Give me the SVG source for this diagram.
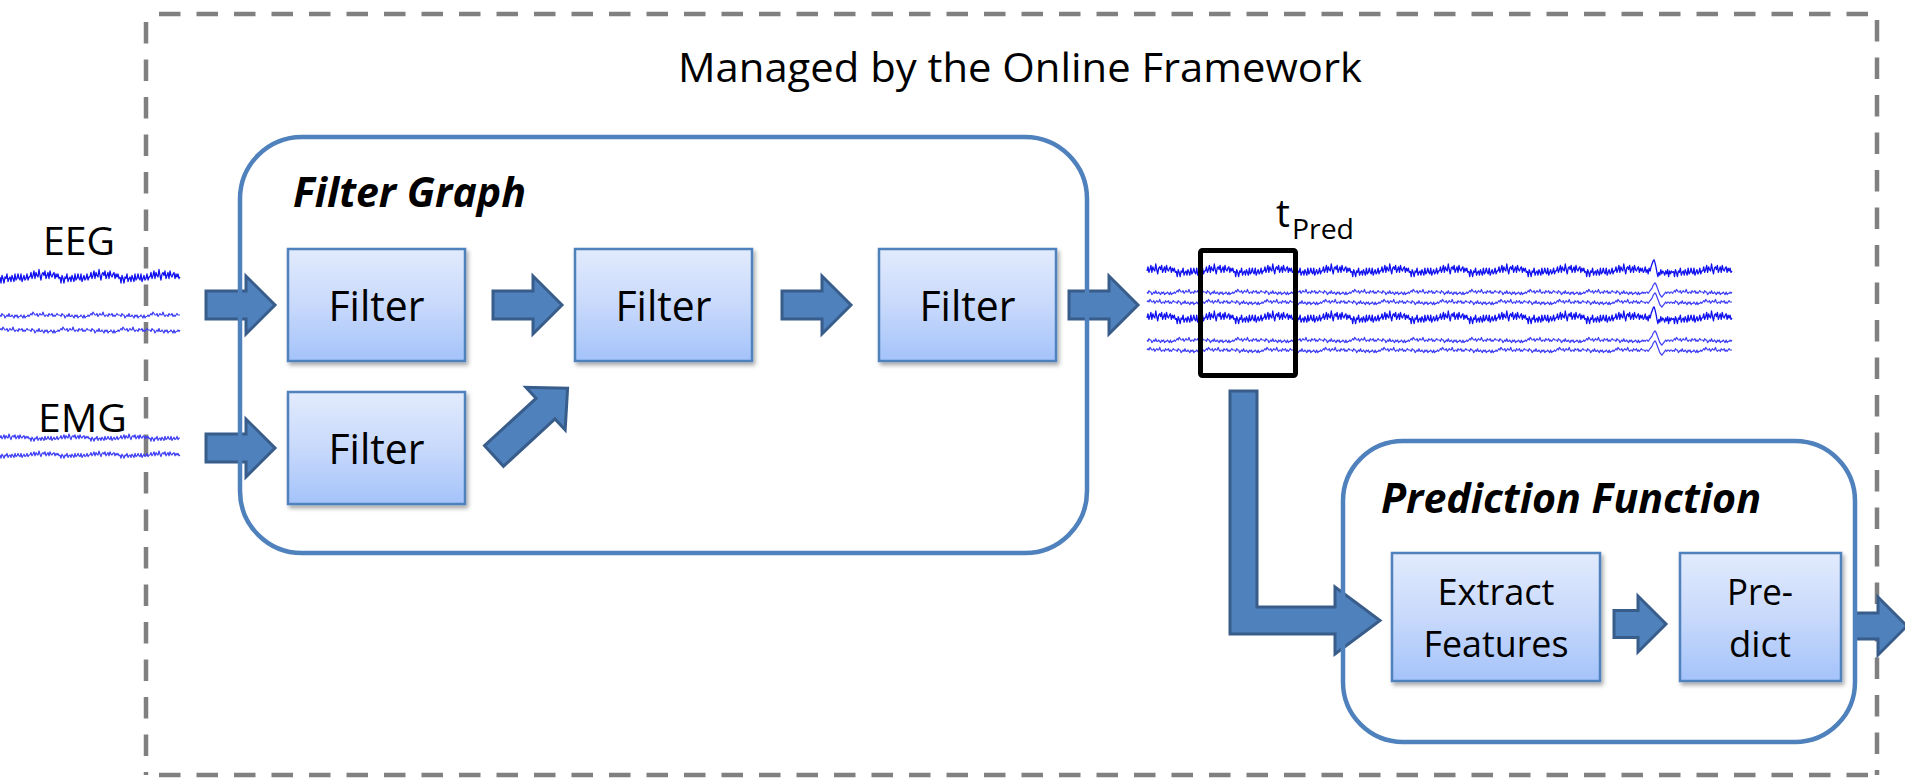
<svg xmlns="http://www.w3.org/2000/svg" xmlns:xlink="http://www.w3.org/1999/xlink" width="1905" height="778" viewBox="0 0 1905 778">
<defs>
<style>
text { font-family: "Open Sans", "Liberation Sans", sans-serif; fill: #000; }
.lbl { font-size: 42px; text-anchor: middle; }
.sm { font-size: 36px; text-anchor: middle; }
.hd { font-size: 41px; font-weight: bold; font-style: italic; }
.cont { fill: none; stroke: #4F81BD; stroke-width: 4.5; }
.box { fill: url(#gb); stroke: #4F81BD; stroke-width: 2.5; filter: url(#sh); }
.arr { fill: #4F81BD; stroke: #385D8A; stroke-width: 3; stroke-linejoin: miter; }
.dash { stroke: #808080; stroke-width: 4.5; stroke-dasharray: 21.5 16; fill: none; }
.sig { fill: none; stroke-linejoin: round; vector-effect: non-scaling-stroke; }
.n { stroke: #1010F0; stroke-width: 1.3; }
.s { stroke: #3C3CF5; stroke-width: 1.2; }
</style>
<linearGradient id="gb" x1="0" y1="0" x2="0" y2="1">
<stop offset="0" stop-color="#E2EBFD"/>
<stop offset="0.5" stop-color="#C8D9FB"/>
<stop offset="1" stop-color="#A4C3FA"/>
</linearGradient>
<filter id="sh" x="-10%" y="-10%" width="130%" height="130%">
<feDropShadow dx="2" dy="3" stdDeviation="2" flood-color="#000" flood-opacity="0.35"/>
</filter>
<path id="arrow" d="M0,-14 L40,-14 L40,-29 L69,0 L40,29 L40,14 L0,14 Z"/>
<path id="nA" class="sig" d="M0,0 l2,-3 2,4 2,-2 2,-3 2,5 2,-4 2,2 2,1 2,-5 2,4 2,3 2,-4 2,-1 2,2 2,-3 2,5 2,-2 2,-2 2,4 2,-5 2,3 2,1 2,-2 2,-1 2,4 2,-3 2,2 2,-2 2,3 2,-1"/>
<path id="nA2" class="sig" d="M0,0 l2,4 2,-5 2,2 2,3 2,-4 2,1 2,-3 2,5 2,-2 2,-1 2,3 2,-4 2,2 2,2 2,-5 2,4 2,-1 2,-3 2,3 2,1 2,-4 2,5 2,-2 2,-2 2,3 2,-1 2,-3 2,4 2,-2 2,0"/>
<path id="nEA" class="sig" d="M0,0 l2,-3 2,4 2,-2 2,3 2,-4 2,2 2,-3 2,-2 2,-2 2,-1 2,2 2,3 2,4 2,3 2,-3 2,2 2,-4 2,3 2,-2 2,1 2,2 2,-3 2,2 2,-3 2,5 2,-4 2,2 2,-2 2,1 2,0"/>
<path id="nB" class="sig" d="M0,0 l2,1 2,-2 2,1 2,0 2,2 2,-1 2,-1 2,1 2,-2 2,2 2,0 2,-1 2,1 2,1 2,-2 2,1 2,-1 2,2 2,-1 2,0 2,-1 2,1 2,1 2,-2 2,2 2,-1 2,0 2,-1 2,1 2,-1"/>
<path id="nB2" class="sig" d="M0,0 l2,-1 2,1 2,-2 2,1 2,1 2,0 2,-1 2,2 2,-1 2,-1 2,1 2,0 2,-2 2,2 2,1 2,-1 2,0 2,1 2,-2 2,1 2,0 2,-1 2,2 2,-1 2,1 2,-1 2,-1 2,1 2,0 2,0"/>
<path id="nE" class="sig" d="M0,0 l2,1 2,-1 2,0 2,1 2,-1 2,-1 2,-1 2,-1 2,-2 2,-1 2,-1 2,1 2,2 2,2 2,2 2,2 2,1 2,1 2,-1 2,-1 2,-1 2,-1 2,1 2,-1 2,0 2,1 2,-1 2,0 2,1 2,-1"/>
<g id="T1"><use href="#nA"/><use href="#nA2" x="60"/><use href="#nA" x="120"/><use href="#nA2" x="180"/><use href="#nA" x="240"/><use href="#nA2" x="300"/><use href="#nA" x="360"/><use href="#nA2" x="420"/><use href="#nA" x="480"/><use href="#nA2" x="540"/><use href="#nA" x="600"/><use href="#nA2" x="660"/><use href="#nA" x="720"/><use href="#nA2" x="780"/><use href="#nA" x="840"/><use href="#nA2" x="900"/><use href="#nA" x="960"/><use href="#nEA" x="1020"/><use href="#nA2" x="1080"/><use href="#nA" x="1140"/></g>
<g id="T2"><use href="#nB"/><use href="#nB2" x="60"/><use href="#nB" x="120"/><use href="#nB2" x="180"/><use href="#nB" x="240"/><use href="#nB2" x="300"/><use href="#nB" x="360"/><use href="#nB2" x="420"/><use href="#nB" x="480"/><use href="#nB2" x="540"/><use href="#nB" x="600"/><use href="#nB2" x="660"/><use href="#nB" x="720"/><use href="#nB2" x="780"/><use href="#nB" x="840"/><use href="#nB2" x="900"/><use href="#nB" x="960"/><use href="#nE" x="1020"/><use href="#nB2" x="1080"/><use href="#nB" x="1140"/></g>
<g id="T3"><use href="#nB2"/><use href="#nB" x="60"/><use href="#nB2" x="120"/><use href="#nB" x="180"/><use href="#nB2" x="240"/><use href="#nB" x="300"/><use href="#nB2" x="360"/><use href="#nB" x="420"/><use href="#nB2" x="480"/><use href="#nB" x="540"/><use href="#nB2" x="600"/><use href="#nB" x="660"/><use href="#nB2" x="720"/><use href="#nB" x="780"/><use href="#nB2" x="840"/><use href="#nB" x="900"/><use href="#nB2" x="960"/><use href="#nE" x="1020"/><use href="#nB" x="1080"/><use href="#nB2" x="1140"/></g>
<g id="I1"><use href="#nA2"/><use href="#nA" x="60"/><use href="#nA2" x="120"/><use href="#nA" x="180"/><use href="#nA2" x="240"/><use href="#nA" x="300"/></g>
<g id="I2"><use href="#nB"/><use href="#nB2" x="60"/><use href="#nB" x="120"/><use href="#nB2" x="180"/><use href="#nB" x="240"/><use href="#nB2" x="300"/></g>
<g id="I3"><use href="#nB2"/><use href="#nB" x="60"/><use href="#nB2" x="120"/><use href="#nB" x="180"/><use href="#nB2" x="240"/><use href="#nB" x="300"/></g>
<g id="I4"><use href="#nA"/><use href="#nA2" x="60"/><use href="#nA" x="120"/><use href="#nA2" x="180"/><use href="#nA" x="240"/><use href="#nA2" x="300"/></g>
</defs>

<!-- outer dashed frame -->
<g id="frame">
<path class="dash" d="M159,14 H1873"/>
<path class="dash" d="M146,22 V775"/>
<path class="dash" d="M1877,20 V775"/>
<path class="dash" d="M159,775 H1877"/>
<text x="1020" y="82" font-size="41" text-anchor="middle" textLength="684" lengthAdjust="spacingAndGlyphs">Managed by the Online Framework</text>
</g>

<!-- input signals -->
<g id="eeg-input">
<g class="n" transform="translate(0,277) scale(0.5,1.5)"><use href="#I1"/></g>
<g class="s" transform="translate(0,315) scale(0.5,1.5)"><use href="#I2"/></g>
<g class="s" transform="translate(0,330) scale(0.5,1.5)"><use href="#I3"/></g>
<text x="79" y="255" font-size="38" text-anchor="middle" textLength="72" lengthAdjust="spacingAndGlyphs">EEG</text>
</g>
<g id="emg-input">
<g class="s" transform="translate(0,438) scale(0.5,0.8)"><use href="#I4"/></g>
<g class="s" transform="translate(0,455) scale(0.5,0.8)"><use href="#I1"/></g>
<text x="82.5" y="432" font-size="38" text-anchor="middle" textLength="89" lengthAdjust="spacingAndGlyphs">EMG</text>
</g>

<!-- filtered signals with prediction window -->
<g id="filtered-signals">
<g class="n" transform="translate(1147,271) scale(0.4875,1.4)"><use href="#T1"/></g>
<g class="s" transform="translate(1147,292) scale(0.4875,1.3)"><use href="#T2"/></g>
<g class="s" transform="translate(1147,302) scale(0.4875,1.3)"><use href="#T3"/></g>
<g class="n" transform="translate(1147,318) scale(0.4875,1.4)"><use href="#T1"/></g>
<g class="s" transform="translate(1147,340) scale(0.4875,1.3)"><use href="#T2"/></g>
<g class="s" transform="translate(1147,350) scale(0.4875,1.3)"><use href="#T3"/></g>
</g>
<g id="tpred-window">
<rect x="1200.5" y="250.5" width="95" height="125" rx="2" fill="none" stroke="#000" stroke-width="5"/>
<text x="1276" y="227" font-size="39">t</text>
<text x="1292" y="239" font-size="27" textLength="62" lengthAdjust="spacingAndGlyphs">Pred</text>
</g>

<!-- connectors -->
<g id="connectors" class="arr">
<use href="#arrow" transform="translate(206,305)"/>
<use href="#arrow" transform="translate(206,448)"/>
<use href="#arrow" transform="translate(493,305)"/>
<use href="#arrow" transform="translate(782,305)"/>
<use href="#arrow" transform="translate(1069,305)"/>
<path d="M0,-14 L70,-14 L70,-29 L100,0 L70,29 L70,14 L0,14 Z" transform="translate(494,456) rotate(-42.6)"/>
<path d="M1230,391 L1257,391 L1257,607 L1335,607 L1335,587 L1380,620.5 L1335,654 L1335,634 L1230,634 Z"/>
<path d="M0,-13.5 L24,-13.5 L24,-28 L52,0 L24,28 L24,13.5 L0,13.5 Z" transform="translate(1614,624)"/>
<path d="M0,-13 L23,-13 L23,-29 L52,0 L23,29 L23,13 L0,13 Z" transform="translate(1855,626)"/>
</g>

<!-- Filter Graph container -->
<g id="filter-graph">
<rect class="cont" x="240" y="137" width="847" height="416" rx="62"/>
<text class="hd" x="293" y="207" textLength="233" lengthAdjust="spacingAndGlyphs">Filter Graph</text>
</g>
<g id="filter1"><rect class="box" x="288" y="249" width="177" height="112"/><text class="lbl" x="376.5" y="321" textLength="96" lengthAdjust="spacingAndGlyphs">Filter</text></g>
<g id="filter2"><rect class="box" x="288" y="392" width="177" height="112"/><text class="lbl" x="376.5" y="464" textLength="96" lengthAdjust="spacingAndGlyphs">Filter</text></g>
<g id="filter3"><rect class="box" x="575" y="249" width="177" height="112"/><text class="lbl" x="663.5" y="321" textLength="96" lengthAdjust="spacingAndGlyphs">Filter</text></g>
<g id="filter4"><rect class="box" x="879" y="249" width="177" height="112"/><text class="lbl" x="967.5" y="321" textLength="96" lengthAdjust="spacingAndGlyphs">Filter</text></g>

<!-- Prediction Function container -->
<g id="prediction-function">
<rect class="cont" x="1343" y="441" width="512" height="301" rx="60"/>
<text class="hd" x="1381" y="513" textLength="380" lengthAdjust="spacingAndGlyphs">Prediction Function</text>
</g>
<g id="extract-features"><rect class="box" x="1392" y="553" width="208" height="128"/>
<text class="sm" x="1496" y="605" textLength="117" lengthAdjust="spacingAndGlyphs">Extract</text>
<text class="sm" x="1496" y="657" textLength="145" lengthAdjust="spacingAndGlyphs">Features</text></g>
<g id="predict"><rect class="box" x="1680" y="553" width="161" height="128"/>
<text class="sm" x="1760" y="605" textLength="66" lengthAdjust="spacingAndGlyphs">Pre-</text>
<text class="sm" x="1760" y="657" textLength="62" lengthAdjust="spacingAndGlyphs">dict</text></g>
</svg>
